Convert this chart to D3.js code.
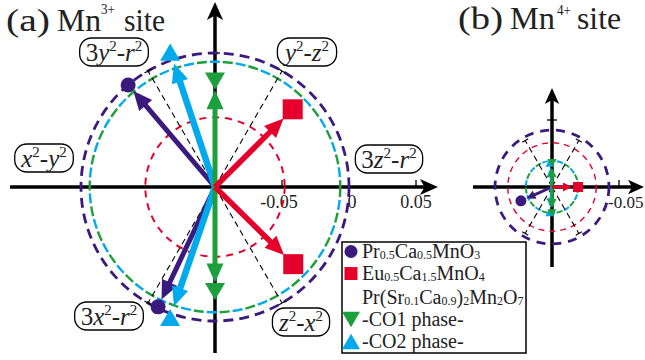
<!DOCTYPE html>
<html><head><meta charset="utf-8">
<script src="https://cdn.jsdelivr.net/npm/d3@7/dist/d3.min.js"></script>
<style>html,body{margin:0;padding:0;background:#fff;} svg{display:block;} text{font-family:"Liberation Serif","Times New Roman",serif;}</style>
</head><body>
<svg id="chart" width="645" height="360"></svg>
<script>
// ---------------- data ----------------
const seriesNames = ["Pr_{0.5}Ca_{0.5}MnO_{3}", "Eu_{0.5}Ca_{1.5}MnO_{4}", "-CO1 phase-", "-CO2 phase-"];
const seriesGroupLabel = "Pr(Sr_{0.1}Ca_{0.9})_{2}Mn_{2}O_{7}";
const seriesColors = ["#3b1a7d", "#e4002b", "#1c9f3c", "#00aaec"];
const seriesMarkers = ["circle", "square", "triangleDown", "triangleUp"];
const orbitalNames = ["3z^{2}-r^{2}", "y^{2}-z^{2}", "3y^{2}-r^{2}", "x^{2}-y^{2}", "3x^{2}-r^{2}", "z^{2}-x^{2}"];
const guideAngles = [60, 120, 240, 300];
const tickValuesA = [-0.05, 0, 0.05];
const tickLabelsA = ["-0.05", "0", "0.05"];
const tickValuesB = [-0.05];
const tickLabelsB = ["-0.05"];
// Mn3+ site: direction (deg) and radial value of each vector
const mn3PcmoAngles = [130.4, 244.6], mn3PcmoValues = [0.000, -0.001];
const mn3EcmoAngles = [45.0, -44.6], mn3EcmoValues = [-0.018, -0.018];
const mn3Co1Angles = [90, 270], mn3Co1Values = [-0.021, -0.022];
const mn3Co2Angles = [108.4, 251.0], mn3Co2Values = [0.006, 0.003];
const mn3CircleValues = [0.000, -0.048, -0.0065, -0.0065];
const mn3GuideValue = 0.0;
// Mn4+ site
const mn4PcmoAngles = [204], mn4PcmoValues = [-0.0746];
const mn4EcmoAngles = [0], mn4EcmoValues = [-0.0806];
const mn4Co1Angles = [90, 270], mn4Co1Values = [-0.082, -0.0806];
const mn4Co2Angles = [95, 265], mn4Co2Values = [-0.082, -0.081];
const mn4CircleValues = [-0.0575, -0.067, -0.0805, -0.0805];
const mn4GuideValue = -0.06;

// ---------------- helpers ----------------
const FONT = '"Liberation Serif","Times New Roman",serif';
const svg = d3.select("#chart");
const rScale = d3.scaleLinear().domain([-0.1, 0.05]).range([0, 201]);
function pol(o, ang, r) { const a = ang * Math.PI / 180; return [o[0] + r * Math.cos(a), o[1] - r * Math.sin(a)]; }

function rich(textSel, str, size, smallSize, raise, italicLetters) {
  let shift = 0; let i = 0;
  while (i < str.length) {
    let c = str[i];
    if ((c === '^' || c === '_') && str[i + 1] === '{') {
      const end = str.indexOf('}', i);
      const s = str.slice(i + 2, end);
      const d = c === '^' ? -raise : 1;
      textSel.append('tspan').attr('font-size', smallSize).attr('dy', d - shift).text(s);
      shift = d; i = end + 1; continue;
    }
    let j = i; let chunk = "";
    while (j < str.length && !((str[j] === '^' || str[j] === '_') && str[j + 1] === '{')) {
      const ch = str[j];
      if (italicLetters && /[a-z]/.test(ch) !== /[a-z]/.test(str[i])) break;
      chunk += ch; j++;
    }
    const t = textSel.append('tspan').attr('font-size', size).text(chunk);
    if (shift) { t.attr('dy', -shift); shift = 0; }
    if (italicLetters && /[a-z]/.test(chunk[0])) t.attr('font-style', 'italic');
    i = j;
  }
}

function marker(g, type, x, y, s, color) {
  if (type === "circle") g.append("circle").attr("cx", x).attr("cy", y).attr("r", s / 2).attr("fill", color);
  else if (type === "square") g.append("rect").attr("x", x - s / 2).attr("y", y - s / 2).attr("width", s).attr("height", s).attr("fill", color);
  else if (type === "triangleDown") g.append("path").attr("d", `M${x - s / 2},${y - s * 0.43}L${x + s / 2},${y - s * 0.43}L${x},${y + s * 0.43}Z`).attr("fill", color);
  else g.append("path").attr("d", `M${x - s / 2},${y + s * 0.43}L${x + s / 2},${y + s * 0.43}L${x},${y - s * 0.43}Z`).attr("fill", color);
}

function arrowHead(g, tip, ang, len, half, color, notch) {
  const a = ang * Math.PI / 180, dx = Math.cos(a), dy = -Math.sin(a);
  const bx = tip[0] - dx * len, by = tip[1] - dy * len;
  const px = -dy, py = dx;
  const nx = tip[0] - dx * len * (1 - notch), ny = tip[1] - dy * len * (1 - notch);
  g.append("path").attr("d", `M${tip[0]},${tip[1]}L${bx + px * half},${by + py * half}L${nx},${ny}L${bx - px * half},${by - py * half}Z`).attr("fill", color);
}

function drawPanel(cfg) {
  const g = svg.append("g");
  const o = cfg.origin;
  // axes
  const ax = g.append("g");
  ax.append("line").attr("x1", o[0] - cfg.axL).attr("x2", o[0] + cfg.axR - 8).attr("y1", o[1]).attr("y2", o[1]).attr("stroke", "#000").attr("stroke-width", cfg.axW);
  ax.append("line").attr("x1", o[0]).attr("x2", o[0]).attr("y1", o[1] + cfg.axD).attr("y2", o[1] - cfg.axU + 8).attr("stroke", "#000").attr("stroke-width", cfg.axW);
  arrowHead(ax, [o[0] + cfg.axR, o[1]], 0, cfg.axHead, cfg.axHead * 0.45, "#000", 0.25);
  arrowHead(ax, [o[0], o[1] - cfg.axU], 90, cfg.axHead, cfg.axHead * 0.45, "#000", 0.25);
  cfg.ticks.forEach((t, i) => {
    const r = rScale(t);
    ax.append("line").attr("x1", o[0] + r).attr("x2", o[0] + r).attr("y1", o[1] - 7).attr("y2", o[1]).attr("stroke", "#000").attr("stroke-width", 1.3);
    ax.append("text").attr("x", o[0] + r + cfg.tickDx[i]).attr("y", o[1] + 21).attr("font-size", cfg.tickSize)
      .attr("font-family", FONT).attr("fill", "#222")
      .attr("text-anchor", cfg.tickAnchor).text(cfg.tickLabels[i]);
  });
  cfg.vTicks.forEach(t => {
    const r = rScale(t);
    ax.append("line").attr("x1", o[0] - 5).attr("x2", o[0] + 5).attr("y1", o[1] - r).attr("y2", o[1] - r).attr("stroke", "#000").attr("stroke-width", 1.3);
  });
  // circles
  const cg = g.append("g").attr("fill", "none");
  cg.append("circle").attr("cx", o[0]).attr("cy", o[1]).attr("r", rScale(cfg.circles[0]))
    .attr("stroke", seriesColors[0]).attr("stroke-width", cfg.purpleW).attr("stroke-dasharray", cfg.purpleDash);
  cg.append("circle").attr("cx", o[0]).attr("cy", o[1]).attr("r", rScale(cfg.circles[1]))
    .attr("stroke", seriesColors[1]).attr("stroke-width", cfg.redW).attr("stroke-dasharray", cfg.redDash);
  cg.append("circle").attr("cx", o[0]).attr("cy", o[1]).attr("r", rScale(cfg.circles[2]))
    .attr("stroke", seriesColors[2]).attr("stroke-width", cfg.coW).attr("stroke-dasharray", cfg.coDash);
  cg.append("circle").attr("cx", o[0]).attr("cy", o[1]).attr("r", rScale(cfg.circles[3]))
    .attr("stroke", seriesColors[3]).attr("stroke-width", cfg.coW).attr("stroke-dasharray", cfg.coDash).attr("stroke-dashoffset", cfg.coOffset);
  // guides
  const gr = rScale(cfg.guide);
  guideAngles.forEach(a => {
    const p = pol(o, a, gr);
    g.append("line").attr("x1", o[0]).attr("y1", o[1]).attr("x2", p[0]).attr("y2", p[1])
      .attr("stroke", "#000").attr("stroke-width", 1.1).attr("stroke-dasharray", "6 4");
    const p1 = pol(p, a + 90, cfg.guideTick), p2 = pol(p, a - 90, cfg.guideTick);
    g.append("line").attr("x1", p1[0]).attr("y1", p1[1]).attr("x2", p2[0]).attr("y2", p2[1]).attr("stroke", "#000").attr("stroke-width", 1.1);
  });
  // vectors
  const order = [0, 3, 2, 1];
  order.forEach(si => {
    const angs = cfg.angles[si], vals = cfg.values[si];
    angs.forEach((a, k) => {
      const rm = rScale(vals[k]);
      const tipR = rm - cfg.gaps[si];
      const tip = pol(o, a, tipR);
      const lineEnd = pol(o, a, tipR - cfg.headLen * 0.7);
      g.append("line").attr("x1", o[0]).attr("y1", o[1]).attr("x2", lineEnd[0]).attr("y2", lineEnd[1])
        .attr("stroke", seriesColors[si]).attr("stroke-width", cfg.vecW[si]);
      arrowHead(g, tip, a, cfg.headLen, cfg.headHalf, seriesColors[si], 0);
      const m = pol(o, a, rm);
      marker(g, seriesMarkers[si], m[0], m[1], cfg.markerSizes[si], seriesColors[si]);
    });
  });
  return g;
}

// ---------------- panel (a) ----------------
drawPanel({
  origin: [215, 187], axL: 205, axR: 223, axU: 185, axD: 166, axW: 3.5, axHead: 18,
  ticks: tickValuesA, tickLabels: tickLabelsA, tickDx: [-3, 3, 0], tickAnchor: "middle", tickSize: 18, vTicks: [0],
  circles: mn3CircleValues, purpleW: 2.8, purpleDash: "10 6", redW: 2, redDash: "7 6",
  coW: 2.4, coDash: "10 16", coOffset: 13,
  guide: mn3GuideValue, guideTick: 4,
  angles: [mn3PcmoAngles, mn3EcmoAngles, mn3Co1Angles, mn3Co2Angles],
  values: [mn3PcmoValues, mn3EcmoValues, mn3Co1Values, mn3Co2Values],
  gaps: [8, 13, 9, 12], headLen: 19, headHalf: 8.5, vecW: [5, 5.5, 5, 6.5], markerSizes: [15, 20, 20, 20]
});

// ---------------- panel (b) ----------------
drawPanel({
  origin: [552, 187], axL: 79, axR: 92, axU: 99, axD: 80, axW: 3.5, axHead: 16,
  ticks: tickValuesB, tickLabels: tickLabelsB, tickDx: [-11], tickAnchor: "start", tickSize: 17, vTicks: [-0.05],
  circles: mn4CircleValues, purpleW: 2.8, purpleDash: "9 7", redW: 1.4, redDash: "6 5",
  coW: 2, coDash: "6 9", coOffset: 7.5,
  guide: mn4GuideValue, guideTick: 3.5,
  angles: [mn4PcmoAngles, mn4EcmoAngles, mn4Co1Angles, mn4Co2Angles],
  values: [mn4PcmoValues, mn4EcmoValues, mn4Co1Values, mn4Co2Values],
  gaps: [6, 6, 5, 5], headLen: 9, headHalf: 4.5, vecW: [3, 3, 3, 3], markerSizes: [11, 10, 9, 9]
});

// ---------------- orbital labels ----------------
const labelCenters = [[389, 159], [307, 52], [114, 52], [44, 158], [109, 316], [301, 322]];
orbitalNames.forEach((name, i) => {
  const c = labelCenters[i];
  const lg = svg.append("g");
  const rect = lg.append("rect");
  const t = lg.append("text").attr("x", c[0]).attr("y", c[1] + 9).attr("text-anchor", "middle")
    .attr("font-family", FONT).attr("fill", "#222");
  rich(t, name, 25, 15, 10, true);
  const bb = t.node().getBBox();
  const w = bb.width + 12, h = 28;
  rect.attr("x", c[0] - w / 2).attr("y", c[1] - h / 2).attr("width", w).attr("height", h)
    .attr("rx", 12).attr("ry", 12).attr("fill", "#fff").attr("stroke", "#000").attr("stroke-width", 1.3);
});

// ---------------- titles ----------------
function title(parts) {
  parts.forEach(p => {
    svg.append("text").attr("x", p[1]).attr("y", p[2]).attr("font-size", p[3]).attr("font-family", FONT)
      .attr("textLength", p[4]).attr("lengthAdjust", "spacingAndGlyphs").attr("fill", "#222").text(p[0]);
  });
}
title([["(a)", 6, 31, 31, 44], ["Mn", 57, 31, 31, 44], ["3+", 101, 14, 15, 14], ["site", 124, 31, 31, 41]]);
title([["(b)", 458, 29, 31, 45], ["Mn", 510, 29, 31, 45], ["4+", 557, 15, 15, 14], ["site", 577, 29, 31, 44]]);

// ---------------- legend ----------------
const leg = svg.append("g");
leg.append("rect").attr("x", 342).attr("y", 242).attr("width", 184).attr("height", 111)
  .attr("fill", "#fff").attr("stroke", "#000").attr("stroke-width", 1.5);
const legRows = [0, 1, -1, 2, 3];
const rowBase = [258, 280, 304, 326, 348];
legRows.forEach((si, r) => {
  const t = leg.append("text").attr("x", 362).attr("y", rowBase[r]).attr("font-family", FONT).attr("fill", "#222");
  if (si < 0) { rich(t, seriesGroupLabel, 20, 12, 8, false); return; }
  rich(t, seriesNames[si], 20, 12, 8, false);
  marker(leg, seriesMarkers[si], 351, rowBase[r] - 6.5, si < 2 ? 13 : 18, seriesColors[si]);
});
</script>
</body></html>
